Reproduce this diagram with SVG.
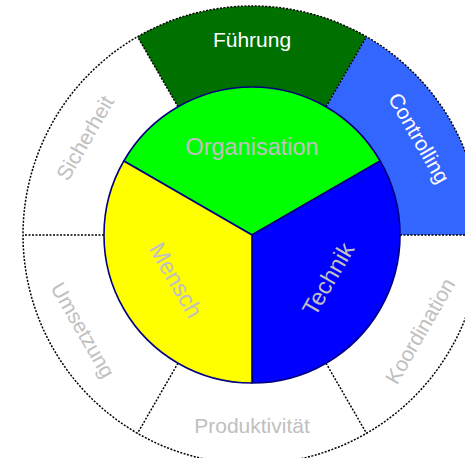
<svg xmlns="http://www.w3.org/2000/svg" width="465" height="458" viewBox="0 0 465 458">
<style>
.lbl{font-family:"Liberation Sans",Arial,sans-serif;text-anchor:middle}
.outer{font-size:21px}
.inner{font-size:23.5px}
.gray{fill:#c0c0c0}
.white{fill:#ffffff}
.div{stroke:#000;stroke-width:1.5;stroke-dasharray:2,1.5;fill:none}
.pie{stroke:#000080;stroke-width:1.6;stroke-linejoin:round}
</style>
<rect width="465" height="458" fill="#ffffff"/>
<g id="outer-ring">
  <g id="fuehrung">
    <path d="M178,106.8 L137.5,36.7 A229,229 0 0 1 366.5,36.7 L326,106.8 Z" fill="#007000"/>
    <text class="lbl outer white" x="252" y="47">Führung</text>
  </g>
  <g id="controlling">
    <path d="M326,106.8 L366.5,36.7 A229,229 0 0 1 481,235 L400,235 Z" fill="#3366ff"/>
    <text class="lbl outer white" transform="translate(419,138) rotate(60)" dy="0.35em">Controlling</text>
  </g>
  <g id="sicherheit">
    <text class="lbl outer gray" transform="translate(85,138) rotate(-60)" dy="0.35em">Sicherheit</text>
  </g>
  <g id="umsetzung">
    <text class="lbl outer gray" transform="translate(83,330) rotate(60)" dy="0.35em">Umsetzung</text>
  </g>
  <g id="produktivitaet">
    <text class="lbl outer gray" x="252" y="433">Produktivität</text>
  </g>
  <g id="koordination">
    <text class="lbl outer gray" transform="translate(420,331) rotate(-60)" dy="0.35em">Koordination</text>
  </g>
</g>
<g id="connectors">
  <circle class="div" cx="252" cy="235" r="229"/>
  <line class="div" x1="400" y1="235" x2="481" y2="235"/>
  <line class="div" x1="326" y1="106.8" x2="366.5" y2="36.7"/>
  <line class="div" x1="178" y1="106.8" x2="137.5" y2="36.7"/>
  <line class="div" x1="104" y1="235" x2="23" y2="235"/>
  <line class="div" x1="178" y1="363.2" x2="137.5" y2="433.3"/>
  <line class="div" x1="326" y1="363.2" x2="366.5" y2="433.3"/>
</g>
<g id="inner-pie">
  <g id="organisation">
    <path class="pie" d="M252,235 L123.8,161 A148,148 0 0 1 380.2,161 Z" fill="#00ff00"/>
    <text class="lbl inner gray" x="252" y="155">Organisation</text>
  </g>
  <g id="technik">
    <path class="pie" d="M252,235 L380.2,161 A148,148 0 0 1 252,383 Z" fill="#0000ff"/>
    <text class="lbl inner gray" transform="translate(328,279) rotate(-60)" dy="0.35em">Technik</text>
  </g>
  <g id="mensch">
    <path class="pie" d="M252,235 L252,383 A148,148 0 0 1 123.8,161 Z" fill="#ffff00"/>
    <text class="lbl inner gray" transform="translate(176,280) rotate(60)" dy="0.35em">Mensch</text>
  </g>
</g>
</svg>
